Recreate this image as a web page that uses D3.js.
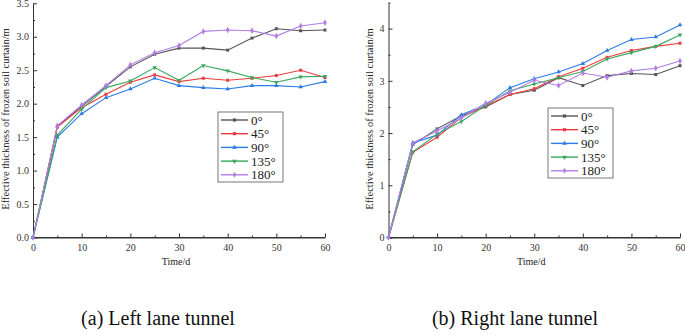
<!DOCTYPE html>
<html lang="en">
<head>
<meta charset="UTF-8">
<title>Frozen soil curtain thickness</title>
<script src="https://d3js.org/d3.v7.min.js"></script>
<style>
  body { margin: 0; background: #fff; }
  svg text { font-family: "Liberation Serif", "Times New Roman", serif; }
  .axis path, .axis line { stroke: #333; }
  .axis text { font-size: 10px; fill: #333; font-family: "Liberation Serif", "Times New Roman", serif; }
</style>
</head>
<body>
<svg width="685" height="336"></svg>
<script>
// time in days
var days = [0, 5, 10, 15, 20, 25, 30, 35, 40, 45, 50, 55, 60];
var angles = ["0°", "45°", "90°", "135°", "180°"];
var colors = ["#555555", "#ee3b3b", "#2b7be6", "#3aa85e", "#b07fe6"];
var symbols = [d3.symbolSquare, d3.symbolSquare, d3.symbolTriangle, d3.symbolTriangle, d3.symbolDiamond];

// (a) left lane tunnel
var left0   = [0, 1.66, 1.96, 2.26, 2.55, 2.74, 2.83, 2.83, 2.80, 2.98, 3.12, 3.09, 3.10];
var left45  = [0, 1.65, 1.94, 2.14, 2.32, 2.43, 2.33, 2.38, 2.35, 2.38, 2.42, 2.50, 2.39];
var left90  = [0, 1.50, 1.85, 2.09, 2.22, 2.38, 2.27, 2.24, 2.22, 2.27, 2.27, 2.25, 2.33];
var left135 = [0, 1.53, 1.92, 2.24, 2.34, 2.54, 2.35, 2.57, 2.49, 2.39, 2.32, 2.40, 2.41];
var left180 = [0, 1.67, 1.98, 2.27, 2.58, 2.76, 2.87, 3.08, 3.10, 3.09, 3.01, 3.16, 3.21];

// (b) right lane tunnel
var right0   = [0, 1.78, 2.08, 2.33, 2.50, 2.74, 2.82, 3.06, 2.91, 3.10, 3.14, 3.12, 3.29];
var right45  = [0, 1.63, 1.92, 2.30, 2.52, 2.74, 2.85, 3.08, 3.24, 3.45, 3.58, 3.66, 3.72];
var right90  = [0, 1.81, 1.96, 2.35, 2.54, 2.87, 3.04, 3.17, 3.33, 3.58, 3.79, 3.84, 4.07];
var right135 = [0, 1.64, 1.98, 2.22, 2.53, 2.81, 2.94, 3.06, 3.18, 3.42, 3.54, 3.66, 3.88];
var right180 = [0, 1.81, 2.04, 2.29, 2.57, 2.78, 3.01, 2.91, 3.15, 3.07, 3.19, 3.24, 3.38];

var xTicks = [0, 10, 20, 30, 40, 50, 60];
var leftYTicks = [0, 0.5, 1.0, 1.5, 2.0, 2.5, 3.0, 3.5];
var rightYTicks = [0, 1, 2, 3, 4];

var svg = d3.select("svg");

function drawPanel(opt) {
    var x = d3.scaleLinear().domain([0, 60]).range([opt.x0, opt.x1]);
    var y = d3.scaleLinear().domain([0, opt.ymax]).range([237.5, opt.ytop]);
    var g = svg.append("g");

    // x axis: major ticks inward, minor at 5s
    g.append("g")
        .attr("class", "axis")
        .attr("transform", "translate(0,237.5)")
        .call(d3.axisBottom(x).tickValues(d3.range(0, 61, 5)).tickSize(-4).tickFormat(""))
        .call(function (a) { a.select(".domain").remove(); })
        .selectAll(".tick line").attr("y2", function (d) { return d % 10 === 0 ? -4 : -2; });
    g.append("g")
        .attr("class", "axis")
        .attr("transform", "translate(0,237.5)")
        .call(d3.axisBottom(x).tickValues(xTicks).tickSize(0).tickPadding(6).tickFormat(d3.format("d")))
        .attr("font-family", null);

    // y axis
    g.append("g")
        .attr("class", "axis")
        .attr("transform", "translate(" + opt.x0 + ",0)")
        .call(d3.axisLeft(y).tickValues(opt.minor).tickSize(-4).tickFormat(""))
        .call(function (a) { a.select(".domain").remove(); })
        .selectAll(".tick line").attr("x2", function (d) { return opt.yTicks.indexOf(d) >= 0 ? 4 : 2; });
    g.append("g")
        .attr("class", "axis")
        .attr("transform", "translate(" + opt.x0 + ",0)")
        .call(d3.axisLeft(y).tickValues(opt.yTicks).tickSize(0).tickPadding(4).tickFormat(opt.fmt))
        .attr("font-family", null);

    g.append("line")
        .attr("x1", opt.x0).attr("x2", opt.x1)
        .attr("y1", 237.5).attr("y2", 237.5)
        .attr("stroke", "#333");

    // titles
    g.append("text")
        .attr("x", (opt.x0 + opt.x1) / 2 - 3)
        .attr("y", 265)
        .attr("text-anchor", "middle")
        .style("font-size", "10px")
        .attr("fill", "#222")
        .text("Time/d");
    g.append("text")
        .attr("transform", "translate(" + opt.titleX + ",119) rotate(-90)")
        .attr("text-anchor", "middle")
        .style("font-size", "10.5px")
        .attr("fill", "#222")
        .text("Effective thickness of frozen soil curtain/m");
    g.append("text")
        .attr("x", opt.capX)
        .attr("y", 325)
        .attr("text-anchor", "middle")
        .style("font-size", "20px")
        .attr("fill", "#111")
        .text(opt.caption);

    var line = d3.line()
        .x(function (d, i) { return x(days[i]); })
        .y(function (d) { return y(d); });

    opt.series.forEach(function (vals, k) {
        g.append("path")
            .datum(vals)
            .attr("fill", "none")
            .attr("stroke", colors[k])
            .attr("stroke-width", 1.1)
            .attr("d", line);
        g.selectAll(".m" + k)
            .data(vals)
            .enter().append("path")
            .attr("transform", function (d, i) {
                return "translate(" + x(days[i]) + "," + y(d) + ")" + (k === 3 ? " rotate(180)" : "");
            })
            .attr("d", d3.symbol().type(symbols[k]).size(k === 4 ? 12 : 9))
            .attr("fill", colors[k]);
    });

    // legend
    var lg = svg.append("g").attr("transform", "translate(" + opt.lx + "," + opt.ly + ")");
    lg.append("rect")
        .attr("width", 65).attr("height", 70)
        .attr("fill", "#fff").attr("stroke", "#555").attr("stroke-width", 0.8);
    angles.forEach(function (a, k) {
        var yy = 8 + k * 13.7;
        lg.append("line")
            .attr("x1", 3).attr("x2", 30)
            .attr("y1", yy).attr("y2", yy)
            .attr("stroke", colors[k]).attr("stroke-width", 1.4);
        lg.append("path")
            .attr("transform", "translate(16.5," + yy + ")" + (k === 3 ? " rotate(180)" : ""))
            .attr("d", d3.symbol().type(symbols[k]).size(10))
            .attr("fill", colors[k]);
        lg.append("text")
            .attr("x", 33).attr("y", yy + 4.5)
            .style("font-size", "13px")
            .attr("fill", "#222")
            .text(a);
    });
}

drawPanel({
    x0: 33, x1: 325, ymax: 3.5, ytop: 3.3,
    yTicks: leftYTicks, minor: d3.range(0, 3.51, 0.25).map(function (v) { return +v.toFixed(2); }),
    fmt: d3.format(".1f"),
    series: [left0, left45, left90, left135, left180],
    titleX: 9, capX: 158, caption: "(a) Left lane tunnel",
    lx: 218, ly: 112
});

drawPanel({
    x0: 388.5, x1: 680, ymax: 4.5, ytop: 2.5,
    yTicks: rightYTicks, minor: d3.range(0, 4.51, 0.5),
    fmt: d3.format("d"),
    series: [right0, right45, right90, right135, right180],
    titleX: 373, capX: 515, caption: "(b) Right lane tunnel",
    lx: 548, ly: 108
});
</script>
</body>
</html>
